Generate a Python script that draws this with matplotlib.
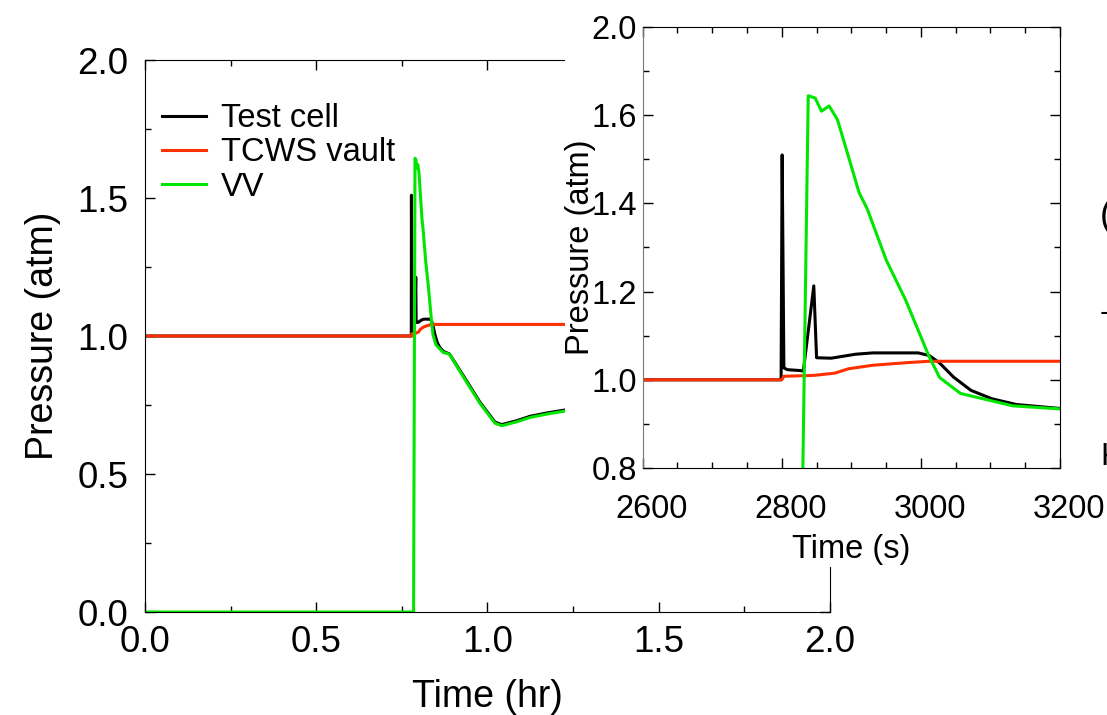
import matplotlib
matplotlib.use("Agg")
"""Pressure transient in test cell, TCWS vault and VV with a zoomed inset."""

import numpy as np
import matplotlib.pyplot as plt
from matplotlib.patches import Rectangle
from matplotlib.ticker import MultipleLocator
import matplotlib.transforms as mtransforms

# test cell pressure (atm) vs time (s)
t_cell = [0, 2799, 2800.5, 2803, 2808, 2826, 2831, 2846, 2850, 2871, 2906, 2931,
          2996, 3012, 3027, 3047, 3072, 3102, 3137, 3200, 3346, 3521, 3679, 3749,
          3907, 4047, 4222, 4415, 4600]
p_cell = [1.0, 1.0, 1.51, 1.027, 1.023, 1.021, 1.02, 1.213, 1.05, 1.049, 1.058, 1.061,
          1.061, 1.055, 1.038, 1.006, 0.976, 0.957, 0.944, 0.935, 0.856, 0.760, 0.688,
          0.679, 0.693, 0.709, 0.721, 0.732, 0.740]

# TCWS vault
t_tcws = [0, 2800, 2803, 2846, 2876, 2896, 2931, 2981, 3012, 4600]
p_tcws = [1.0, 1.0, 1.008, 1.01, 1.015, 1.025, 1.033, 1.039, 1.042, 1.042]

# vacuum vessel
t_vv = [0, 2823, 2838, 2848, 2857, 2868, 2880, 2894, 2911, 2923, 2950, 2978, 3012,
        3027, 3057, 3132, 3200, 3346, 3521, 3679, 3749, 3907, 4047, 4222, 4415, 4600]
p_vv = [0.0, 0.0, 1.644, 1.639, 1.609, 1.621, 1.59, 1.516, 1.425, 1.387, 1.272, 1.181,
        1.052, 1.005, 0.969, 0.941, 0.934, 0.852, 0.756, 0.684, 0.675, 0.689, 0.705,
        0.717, 0.728, 0.736]

series_names = ["Test cell", "TCWS vault", "VV"]
series_colors = ["#000000", "#ff3000", "#00e600"]

main_ticks = [0.0, 0.5, 1.0, 1.5, 2.0]
inset_xticks = [2600, 2800, 3000, 3200]
inset_yticks = [0.8, 1.0, 1.2, 1.4, 1.6, 1.8]
inset_ylabels = ["0.8", "1.0", "1.2", "1.4", "1.6", "2.0"]


def style_ticks(ax, size):
    ax.tick_params(which="both", direction="in", top=True, right=True,
                   labelsize=size, width=1)
    ax.tick_params(which="major", length=7)
    ax.tick_params(which="minor", length=4)


def main() -> None:
    plt.rcParams["font.family"] = ["Liberation Sans", "DejaVu Sans"]
    fig = plt.figure(figsize=(11.07, 7.15), dpi=100)

    series = [(t_cell, p_cell), (t_tcws, p_tcws), (t_vv, p_vv)]

    # main panel, time in hours
    ax = fig.add_axes([145 / 1107, 1 - 612 / 715, 685 / 1107, 552 / 715])
    for (t, p), name, c in zip(series, series_names, series_colors):
        ax.plot(np.array(t) / 3600.0, p, color=c, lw=2.2, label=name)
    ax.set_xlim(0, 2)
    ax.set_ylim(0, 2)
    ax.set_xticks(main_ticks)
    ax.set_yticks(main_ticks)
    ax.set_xticklabels([f"{v:.1f}" for v in main_ticks])
    ax.set_yticklabels([f"{v:.1f}" for v in main_ticks])
    ax.xaxis.set_minor_locator(MultipleLocator(0.25))
    ax.yaxis.set_minor_locator(MultipleLocator(0.25))
    style_ticks(ax, 26.5)
    ax.tick_params(axis="x", pad=9)
    ax.tick_params(axis="y", pad=12)
    ax.set_xlabel("Time (hr)", fontsize=27, labelpad=14)
    ax.set_ylabel("Pressure (atm)", fontsize=27, labelpad=12)
    ax.legend(loc="upper left", bbox_to_anchor=(0.025, 0.922), frameon=False,
              fontsize=23.5, handlelength=1.35, handletextpad=0.45,
              labelspacing=0.1, borderpad=0, borderaxespad=0)

    # white backdrop of the pasted inset
    fig.add_artist(Rectangle((565 / 1107, 1 - 567 / 715), 1 - 565 / 1107, 567 / 715,
                             transform=fig.transFigure, facecolor="white",
                             edgecolor="none", zorder=1))

    # inset, time in seconds
    ins = fig.add_axes([642.7 / 1107, 1 - 468 / 715, 417.3 / 1107, 441 / 715])
    ins.set_zorder(2)
    for (t, p), c in zip(series, series_colors):
        ins.plot(t, p, color=c, lw=2.2)
    ins.set_xlim(2600, 3200)
    ins.set_ylim(0.8, 1.8)
    ins.set_xticks(inset_xticks)
    ins.set_yticks(inset_yticks)
    ins.set_yticklabels(inset_ylabels)
    ins.xaxis.set_minor_locator(MultipleLocator(50))
    ins.yaxis.set_minor_locator(MultipleLocator(0.1))
    style_ticks(ins, 23.5)
    ins.tick_params(axis="x", pad=19)
    ins.tick_params(axis="y", pad=4)
    ins.spines["left"].set_color("#777777")
    shift = mtransforms.ScaledTranslation(9 / 100, 0, fig.dpi_scale_trans)
    for lab in ins.get_xticklabels():
        lab.set_transform(lab.get_transform() + shift)
    ins.set_xlabel("Time (s)", fontsize=23.5, labelpad=6)
    ins.set_ylabel("Pressure (atm)", fontsize=23.5, labelpad=-3)

    # clipped remains of a neighbouring panel at the right edge
    fig.text(1100 / 1107, 1 - 216 / 715, "(", fontsize=26, va="center", ha="left")
    fig.text(1100 / 1107, 1 - 313 / 715, "-", fontsize=22, va="center", ha="left")
    fig.text(1100 / 1107, 1 - 457 / 715, "K", fontsize=23, va="center", ha="left")

    fig.savefig("out.png", dpi=100)


if __name__ == "__main__":
    main()
